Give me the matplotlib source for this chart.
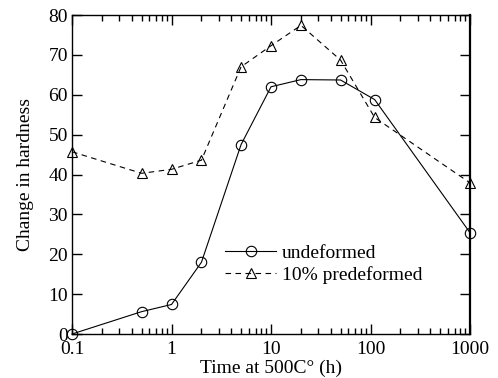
import numpy as np
import matplotlib
matplotlib.use("Agg")
from matplotlib import pyplot as plt

plt.rcParams['font.family'] = ['Liberation Serif', 'DejaVu Serif']

#%% data
time_h = [0.1, 0.5, 1, 2, 5, 10, 20, 50, 110, 1000]
undeformed = [0, 5.6, 7.4, 18.0, 47.5, 62.0, 63.8, 63.7, 58.8, 25.4]
predeformed = [45.7, 40.3, 41.3, 43.6, 67.0, 72.3, 77.4, 68.7, 54.3, 37.9]

#%% plot
fig = plt.figure(figsize=(4.98, 3.78), dpi=100)
ax = fig.add_axes([0.1446, 0.1164, 0.7992, 0.8439])

ax.plot(time_h, undeformed, '-', color='black', lw=0.8, marker='o', ms=7.5,
        mfc='none', mec='black', mew=0.8, label='undeformed', clip_on=False)
ax.plot(time_h, predeformed, '--', color='black', lw=0.8, marker='^', ms=7.5,
        mfc='none', mec='black', mew=0.8, dashes=(5, 4),
        label='10% predeformed', clip_on=False)

ax.set_xscale('log')
ax.set_xlim(0.1, 1000)
ax.set_ylim(0, 80)
ax.set_xticks([0.1, 1, 10, 100, 1000])
ax.set_xticklabels(['0.1', '1', '10', '100', '1000'])
ax.set_yticks(range(0, 81, 10))

ax.tick_params(which='both', direction='in', top=True, right=True,
               labelsize=14, width=1)
ax.tick_params(axis='x', pad=5)
ax.tick_params(axis='y', pad=3)
ax.tick_params(which='major', length=7)
ax.tick_params(which='minor', length=4)
for s in ax.spines.values():
    s.set_linewidth(1)
ax.spines['right'].set_linewidth(1.6)

ax.set_xlabel('Time at 500C\u00b0 (h)', fontsize=14, labelpad=1)
ax.set_ylabel('Change in hardness', fontsize=14, labelpad=10)

ax.legend(loc='upper left', bbox_to_anchor=(0.366, 0.305), frameon=False,
          fontsize=14, handlelength=2.6, handletextpad=0.3,
          borderaxespad=0, labelspacing=0.2)

fig.savefig('out.png', dpi=100)
